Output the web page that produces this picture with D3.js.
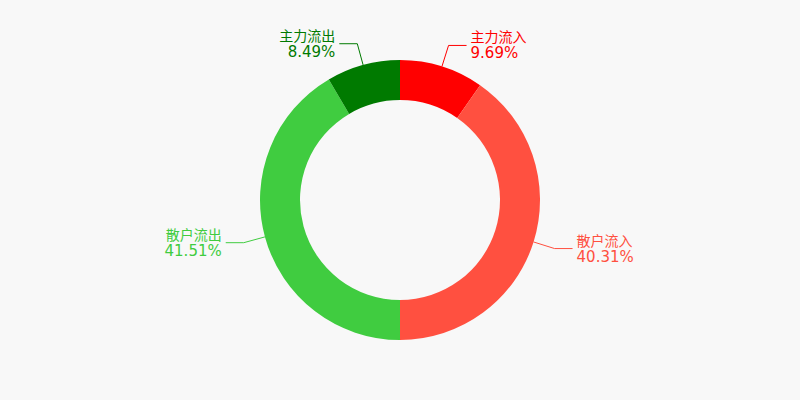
<!DOCTYPE html>
<html><head><meta charset="utf-8">
<script src="https://cdn.jsdelivr.net/npm/d3@7"></script>
<style>body{margin:0;background:#f8f8f8}</style>
</head><body>
<script>
var names = ['主力流入', '散户流入', '散户流出', '主力流出'];
var values = [9.69, 40.31, 41.51, 8.49];
var colors = ['#ff0000', '#ff5040', '#40cc40', '#007a00'];

var svg = d3.select('body').append('svg').attr('width', 800).attr('height', 400);
svg.append('rect').attr('width', 800).attr('height', 400).attr('fill', '#f8f8f8');
var g = svg.append('g').attr('transform', 'translate(400,200)');

var pie = d3.pie().sort(null).value(function(d){ return d; });
var arcs = pie(values);
var arc = d3.arc().innerRadius(100).outerRadius(140);

g.selectAll('path').data(arcs).enter().append('path')
	.attr('d', arc)
	.attr('fill', function(d, i){ return colors[i]; });

// label lines and texts
arcs.forEach(function(d, i){
	var a = (d.startAngle + d.endAngle) / 2;
	var sx = Math.sin(a), sy = -Math.cos(a);
	var p0 = [sx * 140, sy * 140];
	var p1 = [sx * 162, sy * 162];
	var right = sx >= 0;
	var p2 = [p1[0] + (right ? 18 : -18), p1[1]];
	g.append('polyline')
		.attr('points', [p0, p1, p2].map(function(p){ return p.join(','); }).join(' '))
		.attr('fill', 'none').attr('stroke', colors[i]).attr('stroke-width', 1);
	var tx = p2[0] + (right ? 4 : -4);
	g.append('text')
		.attr('x', tx).attr('y', p2[1] - 3)
		.attr('text-anchor', right ? 'start' : 'end')
		.attr('fill', colors[i]).attr('font-size', 14)
		.attr('font-family', 'Noto Sans CJK SC, sans-serif')
		.text(names[i]);
	g.append('text')
		.attr('x', tx).attr('y', p2[1] + 13)
		.attr('text-anchor', right ? 'start' : 'end')
		.attr('fill', colors[i]).attr('font-size', 15)
		.attr('font-family', 'DejaVu Sans, sans-serif')
		.text(values[i].toFixed(2) + '%');
});
</script>
</body></html>
